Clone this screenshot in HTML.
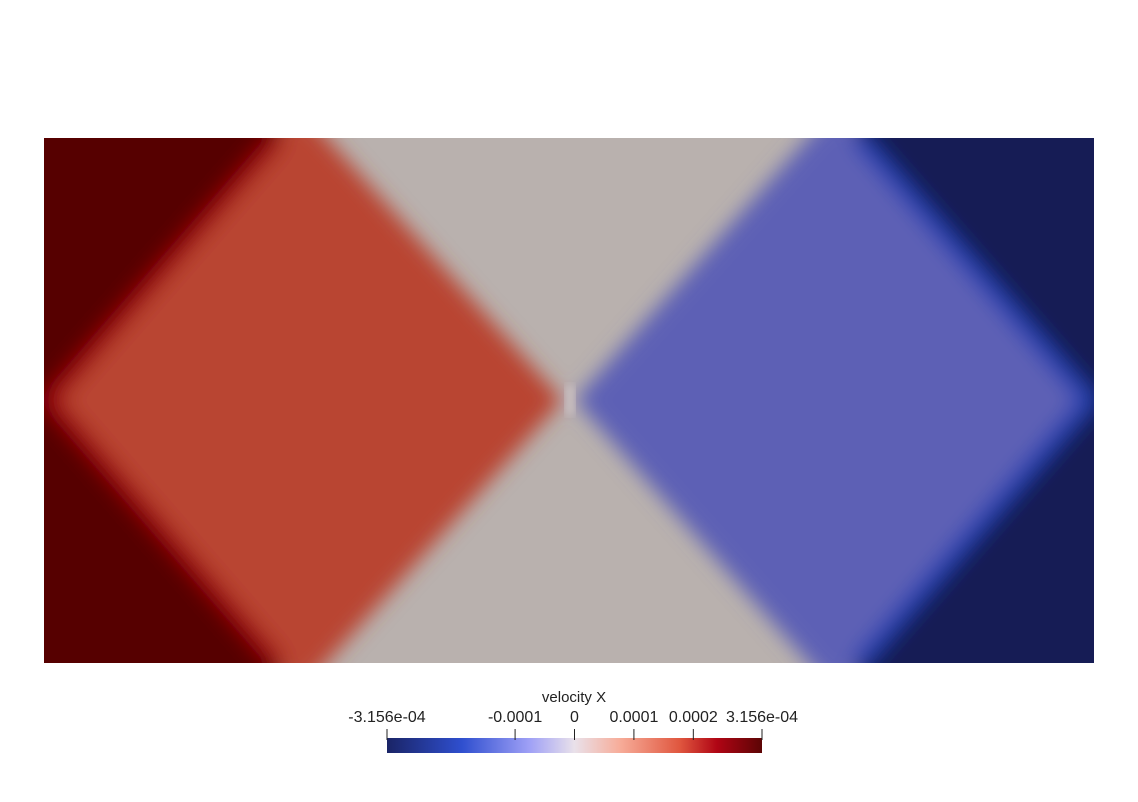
<!DOCTYPE html>
<html><head><meta charset="utf-8"><style>
html,body{margin:0;padding:0;background:#fff;width:1138px;height:802px;overflow:hidden}
svg{display:block;font-family:"Liberation Sans",sans-serif}
</style></head><body>
<svg width="1138" height="802">
<defs>
<filter id="b" x="-10%" y="-10%" width="120%" height="120%"><feGaussianBlur stdDeviation="10"/></filter>
<filter id="b2" x="-10%" y="-10%" width="120%" height="120%"><feGaussianBlur stdDeviation="4"/></filter>
<clipPath id="clip"><rect x="44" y="138" width="1050" height="525"/></clipPath>
<linearGradient id="cmap" x1="0" x2="1" y1="0" y2="0">
<stop offset="0" stop-color="#1a2466"/><stop offset="0.2" stop-color="#2f4fcf"/>
<stop offset="0.38" stop-color="#9fa0f6"/><stop offset="0.5" stop-color="#e9e1ea"/>
<stop offset="0.62" stop-color="#f7ad9a"/><stop offset="0.78" stop-color="#e0573f"/>
<stop offset="0.88" stop-color="#b00514"/><stop offset="1" stop-color="#5c0505"/>
</linearGradient>
</defs>
<g clip-path="url(#clip)">
<rect x="30" y="120" width="1080" height="560" fill="#b9b1ae"/>
<g filter="url(#b)">
<polygon points="40,400 300,115 556,400 300,685" fill="#b94532" stroke="#b94532" stroke-width="10" stroke-linejoin="round"/>
<polygon points="582,400 835,115 1100,400 835,685" fill="#5d60b5" stroke="#5d60b5" stroke-width="10" stroke-linejoin="round"/>
<polygon points="0,100 290,100 278,138 50,400 278,663 290,700 0,700" fill="#560404"/>
<polyline points="278,138 50,400 278,663" fill="none" stroke="#9a0010" stroke-width="16" stroke-linejoin="round"/>
<polygon points="1140,100 848,100 858,138 1088,400 858,663 848,700 1140,700" fill="#151f55"/>
<polyline points="858,138 1088,400 858,663" fill="none" stroke="#2440b0" stroke-width="16" stroke-linejoin="round"/>
</g>
<g filter="url(#b2)">
<rect x="565" y="385" width="10" height="30" fill="#c8c0c0"/>
</g>
</g>
<text x="574" y="702" font-size="15" text-anchor="middle" fill="#222">velocity X</text>
<rect x="387" y="738" width="375" height="15" fill="url(#cmap)"/>
<g id="ticks"></g>
</svg>
<script>
const tickValues=[-3.156e-4,-1e-4,0,1e-4,2e-4,3.156e-4];
const tickLabels=["-3.156e-04","-0.0001","0","0.0001","0.0002","3.156e-04"];
const vmin=-3.156e-4, vmax=3.156e-4;
function xs(v){return 387+(v-vmin)/(vmax-vmin)*375;}
const g=document.getElementById('ticks');
const NS="http://www.w3.org/2000/svg";
tickValues.forEach((v,i)=>{
  const x=xs(v);
  const l=document.createElementNS(NS,'line');
  l.setAttribute('x1',x);l.setAttribute('x2',x);l.setAttribute('y1',729);l.setAttribute('y2',740);
  l.setAttribute('stroke','#222');l.setAttribute('stroke-width','1');
  
  
  g.appendChild(l);
  const t=document.createElementNS(NS,'text');
  t.setAttribute('x',x);t.setAttribute('y',722);t.setAttribute('font-size','16');
  t.setAttribute('text-anchor','middle');t.setAttribute('fill','#222');
  t.textContent=tickLabels[i];
  
  
  g.appendChild(t);
});
</script>
</body></html>
